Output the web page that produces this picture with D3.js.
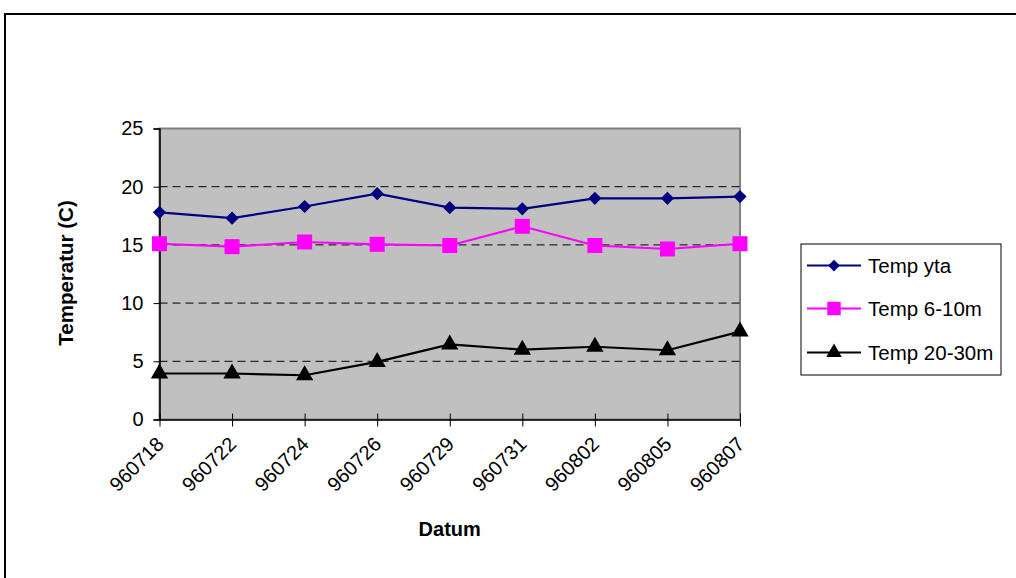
<!DOCTYPE html>
<html><head><meta charset="utf-8">
<script src="https://cdn.jsdelivr.net/npm/d3@7"></script>
<style>body{margin:0;background:#fff;} text{font-family:"Liberation Sans",Arial,sans-serif;}</style>
</head><body><svg id="c" width="1016" height="578"></svg>
<script>
const categories = ["960718","960722","960724","960726","960729","960731","960802","960805","960807"];
const tempYta = [17.8,17.3,18.3,19.4,18.2,18.1,19.0,19.0,19.15];
const temp6_10 = [15.1,14.85,15.25,15.05,14.95,16.6,14.95,14.65,15.1];
const temp20_30 = [3.95,3.95,3.8,4.95,6.45,6.0,6.25,5.95,7.55];
const yTicks = [0,5,10,15,20,25];
const seriesNames = ["Temp yta","Temp 6-10m","Temp 20-30m"];

const svg = d3.select("#c");
const L=159.5, R=740, T=128.5, B=419.5;
const x = d3.scalePoint().domain(categories).range([L,R]);
const y = d3.scaleLinear().domain([0,25]).range([B,T]);
const FF = "Liberation Sans, Arial, sans-serif";

// outer frame
svg.append("rect").attr("x",5).attr("y",14).attr("width",1100).attr("height",700)
  .attr("fill","none").attr("stroke","#000").attr("stroke-width",2);

// plot background
svg.append("rect").attr("x",L).attr("y",T).attr("width",R-L).attr("height",B-T)
  .attr("fill","#C0C0C0").attr("stroke","#808080").attr("stroke-width",2);

// gridlines
svg.append("g").selectAll("line").data(yTicks.filter(d=>d>0&&d<25)).join("line")
  .attr("x1",L).attr("x2",R).attr("y1",d=>y(d)).attr("y2",d=>y(d))
  .attr("stroke","#000").attr("stroke-width",1).attr("stroke-dasharray","8,5");

// y axis
const ya = svg.append("g").attr("transform",`translate(${L},0)`)
  .call(d3.axisLeft(y).tickValues(yTicks).tickSize(6).tickPadding(10));
ya.select(".domain").attr("stroke","#000").attr("stroke-width",1.5);
ya.selectAll("line").attr("stroke","#000");
ya.selectAll("text").attr("font-size","20px").attr("fill","#000").attr("font-family",FF);

// x axis
const xa = svg.append("g").attr("transform",`translate(0,${B})`)
  .call(d3.axisBottom(x).tickSizeInner(7).tickSizeOuter(0).tickPadding(6));
xa.select(".domain").attr("stroke","#000").attr("stroke-width",1.5);
xa.selectAll(".tick line").attr("stroke","#000").attr("y1",-6);
xa.selectAll("text").attr("font-size","20px").attr("fill","#000").attr("font-family",FF)
  .attr("text-anchor","end").attr("dy",null).attr("y",0)
  .attr("transform","translate(5,26) rotate(-45)");

// titles
svg.append("text").attr("x",449.7).attr("y",536).attr("text-anchor","middle")
  .attr("font-size","20px").attr("font-weight","bold").text("Datum");
svg.append("text").attr("transform","translate(72.5,273) rotate(-90)").attr("text-anchor","middle")
  .attr("font-size","20.5px").attr("font-weight","bold").text("Temperatur (C)");

const series = [
  {name:seriesNames[0], vals:tempYta, color:"#000080", sym:d3.symbolDiamond2, size:110},
  {name:seriesNames[1], vals:temp6_10, color:"#FF00FF", sym:d3.symbolSquare, size:225},
  {name:seriesNames[2], vals:temp20_30, color:"#000000", sym:d3.symbolTriangle, size:130}
];
const line = d3.line().x((d,i)=>x(categories[i])).y(d=>y(d));
series.forEach(s=>{
  svg.append("path").attr("d",line(s.vals)).attr("fill","none").attr("stroke",s.color).attr("stroke-width",2.2);
  svg.append("g").selectAll("path").data(s.vals).join("path")
    .attr("transform",(d,i)=>`translate(${x(categories[i])},${y(d)})`)
    .attr("d",d3.symbol().type(s.sym).size(s.size)).attr("fill",s.color);
});

// legend
svg.append("rect").attr("x",801).attr("y",244).attr("width",200).attr("height",131)
  .attr("fill","#fff").attr("stroke","#000").attr("stroke-width",1);
const ly=[265.5,308.5,352.5];
series.forEach((s,i)=>{
  svg.append("line").attr("x1",807).attr("x2",861).attr("y1",ly[i]).attr("y2",ly[i])
    .attr("stroke",s.color).attr("stroke-width",2.2);
  svg.append("path").attr("transform",`translate(834,${ly[i]})`)
    .attr("d",d3.symbol().type(s.sym).size(s.size*0.8)).attr("fill",s.color);
  svg.append("text").attr("x",868).attr("y",ly[i]+7).attr("font-size","20.5px").text(s.name);
});
</script></body></html>
